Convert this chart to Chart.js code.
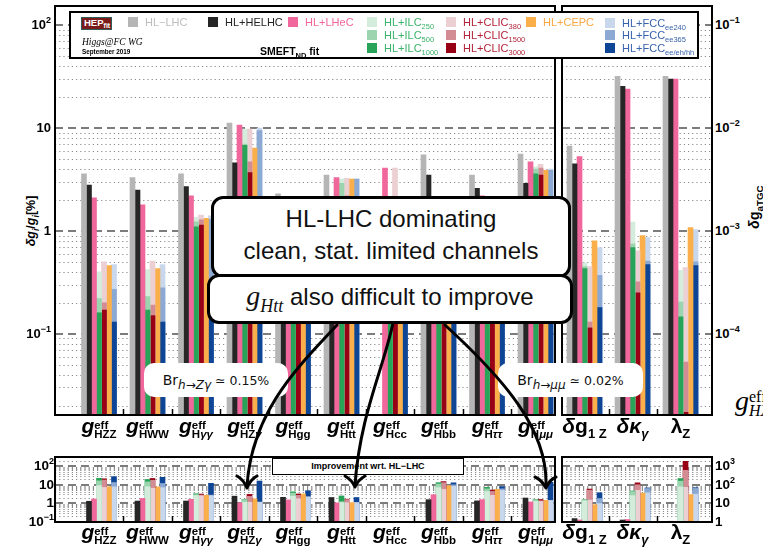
<!DOCTYPE html>
<html>
<head>
<meta charset="utf-8">
<script src="https://cdn.jsdelivr.net/npm/chart.js@4.4.1/dist/chart.umd.min.js"></script>
<style>
html, body { margin: 0; padding: 0; background: #fff; }
#page { position: relative; width: 763px; height: 548px; overflow: hidden; font-family: "Liberation Sans", Arial, sans-serif; color: #000; }
canvas { position: absolute; z-index: 1; }
.frame { position: absolute; z-index: 2; border: 2px solid #000; box-sizing: border-box; }
.tk { position: absolute; z-index: 3; font-weight: bold; font-size: 13px; line-height: 14px; white-space: nowrap; transform: translateY(-50%); }
.tk sup { font-size: 9px; line-height: 0; vertical-align: 6px; }
.tk.small { font-size: 13.5px; }
.xl { position: absolute; z-index: 3; white-space: nowrap; font-weight: bold; line-height: 20px; transform: translateX(-50%); }
.xl .g { font-style: italic; font-size: 21px; }
.xl .ss { display: inline-block; vertical-align: -5px; font-size: 11.5px; line-height: 9px; text-align: left; }
.xl .ss span { display: block; }
.xl.tgc .g { font-style: normal; }
.xl .sb { font-size: 13px; vertical-align: -5px; line-height: 0; }
.ax { position: absolute; z-index: 3; white-space: nowrap; font-weight: bold; transform: translate(-50%, -50%) rotate(-90deg); }
.ax sub { font-size: 0.7em; line-height: 0; }
#legend { position: absolute; z-index: 4; left: 69px; top: 11px; width: 630px; height: 48px; box-sizing: border-box; border: 2px solid #000; background: #fff; }
.lg { position: absolute; z-index: 5; font-size: 11px; line-height: 10px; white-space: nowrap; }
.lg i { position: absolute; left: 0; top: 0; width: 10px; height: 10px; }
.lg span { position: absolute; left: 17px; top: 0; }
.lg sub { font-size: 7.5px; line-height: 0; vertical-align: -3px; }
#logo { position: absolute; z-index: 5; left: 81px; top: 17px; width: 31px; height: 13px; box-sizing: border-box; border: 1.5px solid #2f5d59; background: #7a1c1c; color: #fff; font-weight: bold; font-size: 9.5px; line-height: 10px; padding-left: 2px; }
#logo small { font-size: 7px; vertical-align: -2px; }
.note { position: absolute; z-index: 5; white-space: nowrap; }
.callout { position: absolute; z-index: 6; box-sizing: border-box; border: 3px solid #000; border-radius: 12px; background: #fff; text-align: center; font-size: 24px; line-height: 32px; white-space: nowrap; color: #111; }
.callout .m { font-family: "Liberation Serif", serif; font-style: italic; font-size: 28px; }
.callout .m sub { font-size: 18px; line-height: 0; }
.br { position: absolute; z-index: 6; box-sizing: border-box; background: #fff; border-radius: 10px; font-family: "DejaVu Sans", sans-serif; font-size: 12.5px; line-height: 34px; text-align: center; white-space: nowrap; color: #111; }
.br .b { font-size: 14px; }
.br sub { font-size: 12px; line-height: 0; vertical-align: -4px; }
#improve { position: absolute; z-index: 4; left: 272px; top: 458px; width: 192px; height: 17px; box-sizing: border-box; border: 1.5px solid #000; background: #fff; font-weight: bold; font-size: 9px; line-height: 14px; text-align: center; }
#cut { position: absolute; z-index: 3; left: 735px; top: 386px; font-family: "Liberation Serif", serif; white-space: nowrap; line-height: 30px; }
#cut .g { font-style: italic; font-size: 28px; }
#cut .ss { display: inline-block; vertical-align: -6px; font-size: 16px; line-height: 14px; }
#cut .ss span { display: block; }
svg { position: absolute; left: 0; top: 0; z-index: 7; }
</style>
</head>
<body>
<div id="page">
  <canvas id="cMain" width="500" height="409" style="left:55px;top:6px"></canvas>
  <canvas id="cTgc" width="150" height="409" style="left:562px;top:6px"></canvas>
  <canvas id="cImp" width="500" height="65" style="left:55px;top:457px"></canvas>
  <canvas id="cImpTgc" width="150" height="65" style="left:562px;top:457px"></canvas>

  <div class="frame" style="left:54px;top:5px;width:502px;height:411px"></div>
  <div class="frame" style="left:561px;top:5px;width:152px;height:411px"></div>
  <div class="frame" style="left:54px;top:456px;width:502px;height:67px"></div>
  <div class="frame" style="left:561px;top:456px;width:152px;height:67px"></div>

  <div class="ax" style="left:31px;top:221px;font-size:12.5px"><i>δg</i><sub><i>i</i></sub>/<i>g</i><sub><i>i</i></sub>[%]</div>
  <div class="ax" style="left:754px;top:207px;font-size:14px"><i>δ</i>g<sub>aTGC</sub></div>

  <div id="legend"></div>
  <div id="logo">HEP<small>fit</small></div>
  <div class="note" style="left:82px;top:37px;font-family:'Liberation Serif',serif;font-style:italic;font-size:9.5px">Higgs@FC WG</div>
  <div class="note" style="left:82px;top:48px;font-weight:bold;font-size:6.3px">September 2019</div>
  <div class="note" style="left:260px;top:45px;font-weight:bold;font-size:10.5px">SMEFT<sub style="font-size:7.5px">ND</sub> fit</div>

  <div class="lg" style="left:128px;top:17px"><i style="background:#b5b5b5"></i><span style="color:#bdbdbd">HL−LHC</span></div>
  <div class="lg" style="left:208px;top:17px"><i style="background:#262626"></i><span style="color:#222">HL+HELHC</span></div>
  <div class="lg" style="left:288px;top:17px"><i style="background:#f0679b"></i><span style="color:#f0679b">HL+LHeC</span></div>
  <div class="lg" style="left:367px;top:17px"><i style="background:#d3ecdb"></i><span style="color:#3ab36a">HL+ILC<sub>250</sub></span></div>
  <div class="lg" style="left:367px;top:30px"><i style="background:#9bd4ae"></i><span style="color:#3ab36a">HL+ILC<sub>500</sub></span></div>
  <div class="lg" style="left:367px;top:43px"><i style="background:#27a457"></i><span style="color:#3ab36a">HL+ILC<sub>1000</sub></span></div>
  <div class="lg" style="left:446px;top:17px"><i style="background:#ebcfd3"></i><span style="color:#b3233a">HL+CLIC<sub>380</sub></span></div>
  <div class="lg" style="left:446px;top:30px"><i style="background:#d38b94"></i><span style="color:#b3233a">HL+CLIC<sub>1500</sub></span></div>
  <div class="lg" style="left:446px;top:43px"><i style="background:#980016"></i><span style="color:#b3233a">HL+CLIC<sub>3000</sub></span></div>
  <div class="lg" style="left:526px;top:17px"><i style="background:#fbaf4a"></i><span style="color:#f8a842">HL+CEPC</span></div>
  <div class="lg" style="left:605px;top:18px"><i style="background:#c8d7ec"></i><span style="color:#3a63ad">HL+FCC<sub>ee240</sub></span></div>
  <div class="lg" style="left:605px;top:30px"><i style="background:#8ba9d3"></i><span style="color:#3a63ad">HL+FCC<sub>ee365</sub></span></div>
  <div class="lg" style="left:605px;top:43px"><i style="background:#0e4595"></i><span style="color:#3a63ad">HL+FCC<sub>ee/eh/hh</sub></span></div>

  <div id="improve">Improvement wrt. HL−LHC</div>

  <div class="callout" style="left:211px;top:196px;width:360px;height:82px;padding-top:4px">HL-LHC dominating<br>clean, stat. limited channels</div>
  <div class="callout" style="left:207px;top:274px;width:366px;height:50px;padding-top:3px"><span class="m">g<sub>Htt</sub></span> also difficult to improve</div>
  <div class="br" style="left:144px;top:363px;width:144px;height:34px"><span class="b">Br</span><sub><i>h</i>→<i>Zγ</i></sub> ≃ 0.15%</div>
  <div class="br" style="left:498px;top:363px;width:145px;height:34px"><span class="b">Br</span><sub><i>h</i>→<i>μμ</i></sub> ≃ 0.02%</div>

  <div id="cut"><span class="g">g</span><span class="ss"><span>eff</span><span><i>HX</i></span></span></div>

  <svg width="763" height="548" viewBox="0 0 763 548">
    <g fill="none" stroke="#000" stroke-width="3" stroke-linecap="round" stroke-linejoin="round">
      <path d="M337,325 C300,365 252,410 247,486"/>
      <path d="M237,476 Q244,480 247,488 Q250,480 257,476"/>
      <path d="M393,323 C383,370 360,415 355,485"/>
      <path d="M345,476 Q352,480 355,487 Q358,480 365,476"/>
      <path d="M445,325 C505,380 548,430 546,486"/>
      <path d="M535,477 Q542,480 546,488 Q549,480 556,477"/>
    </g>
  </svg>
</div>

<script>
const higgsCats = ['HZZ', 'HWW', 'Hγγ', 'HZγ', 'Hgg', 'Htt', 'Hcc', 'Hbb', 'Hττ', 'Hμμ'];
const tgcCats = [['δg', '1 Z'], ['δκ', 'γ'], ['λ', 'Z']];

// first 10: Higgs couplings, δg/g in %; last 3: aTGC, absolute
const hlLhc    = [3.6, 3.3, 3.6, 11.2, 2.3, 3.5, null, 5.5, 3.5, 5.6, 6.7e-3, 3.2e-2, 3.2e-2];
const hlHeLhc  = [2.8, 2.5, 2.7, 4.6, 1.1, 1.7, null, 3.5, 2.6, 2.9, 4.5e-3, 2.55e-2, 3.0e-2];
const hlLhec   = [2.1, 1.8, 2.2, 10.7, 1.5, 3.3, 4.1, 1.9, 2.2, 4.7, 5.3e-3, 2.4e-2, 3.0e-2];
const ilc250   = [0.40, 0.42, 1.36, 9.8, 0.95, 3.2, 1.8, 0.78, 0.81, 4.2, 4.9e-4, 1.22e-3, 4.15e-4];
const ilc500   = [0.22, 0.23, 1.23, 7.0, 0.65, 2.9, 1.2, 0.50, 0.58, 4.0, 4.5e-4, 7.5e-4, 2.04e-4];
const ilc1000  = [0.16, 0.17, 1.10, 6.8, 0.55, 1.4, 0.88, 0.42, 0.48, 3.6, 4.3e-4, 6.9e-4, 1.46e-4];
const clic380  = [0.50, 0.51, 1.43, 9.8, 1.3, 3.25, 4.1, 0.98, 1.3, 4.45, 4.5e-4, 6.4e-4, 4.4e-4];
const clic1500 = [0.20, 0.19, 1.28, 4.7, 0.85, 2.2, 1.9, 0.42, 0.79, 4.1, 1.3e-4, 3.2e-4, 5.3e-5];
const clic3000 = [0.17, 0.15, 1.14, 3.7, 0.72, 2.1, 1.4, 0.37, 0.67, 3.5, 1.14e-4, 2.5e-4, 1.72e-5];
const cepc     = [0.46, 0.43, 1.33, 6.4, 0.72, 3.2, 1.8, 0.61, 0.61, 3.9, 8.0e-4, 9.0e-4, 1.08e-3];
const fcc240   = [0.47, 0.47, 1.40, 10.0, 1.1, 3.2, 1.4, 0.67, 0.70, 4.0, 6.9e-4, 8.6e-4, 1.03e-3];
const fcc365   = [0.27, 0.28, 1.30, 9.5, 0.98, 3.2, 1.2, 0.55, 0.57, 3.9, 3.7e-4, 5.1e-4, 5.0e-4];
const fccAll   = [0.13, 0.13, 0.30, 0.70, 0.48, 1.7, 0.95, 0.43, 0.44, 0.41, 1.8e-4, 4.7e-4, 4.6e-4];

// improvement wrt. HL-LHC (lower panels)
const impHeLhc    = [1.29, 1.32, 1.33, 2.43, 2.1, 2.06, null, 1.57, 1.35, 1.93, 1.49, 1.25, 1.07];
const impLhec     = [1.71, 1.83, 1.64, 1.05, 1.53, 1.06, null, 2.9, 1.59, 1.19, 1.26, 1.33, 1.07];
const impIlc250   = [9.0, 7.9, 2.65, 1.14, 2.42, 1.09, null, 7.05, 4.3, 1.33, 13.7, 26, 77];
const impIlc500   = [16.4, 14.3, 2.93, 1.6, 3.54, 1.21, null, 11, 6.0, 1.4, 14.9, 43, 157];
const impIlc1000  = [22.5, 19.4, 3.27, 1.65, 4.18, 2.5, null, 13.1, 7.3, 1.56, 15.6, 46, 219];
const impClic380  = [7.2, 6.5, 2.52, 1.14, 1.77, 1.08, null, 5.6, 2.7, 1.26, 14.9, 50, 73];
const impClic1500 = [18, 17.4, 2.81, 2.38, 2.7, 1.59, null, 13.1, 4.4, 1.37, 51.5, 100, 604];
const impClic3000 = [21.2, 22, 3.16, 3.03, 3.19, 1.67, null, 14.9, 5.2, 1.6, 58.8, 128, 1860];
const impCepc     = [7.8, 7.7, 2.71, 1.75, 3.19, 1.09, null, 9.0, 5.7, 1.44, 8.4, 35.6, 29.6];
const impFcc240   = [7.7, 7.0, 2.57, 1.12, 2.09, 1.09, null, 8.2, 5.0, 1.4, 9.7, 37, 31];
const impFcc365   = [13.3, 11.8, 2.77, 1.18, 2.35, 1.09, null, 10, 6.1, 1.44, 18.1, 63, 64];
const impFccAll   = [27.7, 25.4, 12, 16, 4.8, 2.06, null, 12.8, 8.0, 13.7, 37.2, 68, 70];

const higgsTicks = [100, 10, 1, 0.1];
const higgsTickText = ['10<sup>2</sup>', '10', '1', '10<sup>−1</sup>'];
const tgcTicks = [0.1, 0.01, 0.001, 0.0001];
const tgcTickText = ['10<sup>−1</sup>', '10<sup>−2</sup>', '10<sup>−3</sup>', '10<sup>−4</sup>'];
const impTicks = [100, 10, 1, 0.1];
const impTickText = ['10<sup>2</sup>', '10', '1', '10<sup>−1</sup>'];
const impTgcTicks = [1000, 100, 10, 1];
const impTgcTickText = ['10<sup>3</sup>', '10<sup>2</sup>', '10', '1'];

const colors = {
  hl: '#b5b5b5', he: '#262626', lhec: '#f0679b',
  ilc250: '#d3ecdb', ilc500: '#9bd4ae', ilc1000: '#27a457',
  clic380: '#ebcfd3', clic1500: '#d38b94', clic3000: '#980016',
  cepc: '#fbaf4a', fcc240: '#c8d7ec', fcc365: '#8ba9d3', fccAll: '#0e4595'
};

// first dataset is drawn last, so the shortest bar of a shared slot comes first
const topSeries = [
  ['hl', hlLhc, 'a'], ['he', hlHeLhc, 'b'], ['lhec', hlLhec, 'c'],
  ['ilc1000', ilc1000, 'd'], ['ilc500', ilc500, 'd'], ['ilc250', ilc250, 'd'],
  ['clic3000', clic3000, 'e'], ['clic1500', clic1500, 'e'], ['clic380', clic380, 'e'],
  ['cepc', cepc, 'f'],
  ['fccAll', fccAll, 'g'], ['fcc365', fcc365, 'g'], ['fcc240', fcc240, 'g']
];
const impSeries = [
  ['hl', [], 'a'], ['he', impHeLhc, 'b'], ['lhec', impLhec, 'c'],
  ['ilc250', impIlc250, 'd'], ['ilc500', impIlc500, 'd'], ['ilc1000', impIlc1000, 'd'],
  ['clic380', impClic380, 'e'], ['clic1500', impClic1500, 'e'], ['clic3000', impClic3000, 'e'],
  ['cepc', impCepc, 'f'],
  ['fcc240', impFcc240, 'g'], ['fcc365', impFcc365, 'g'], ['fccAll', impFccAll, 'g']
];

function makeSets(series, from, to) {
  return series.map(([key, vals, stack]) => ({
    data: vals.slice(from, to).map((v, i) => ({x: i, y: v})),
    backgroundColor: colors[key],
    stack: stack,
    barThickness: 5,
    borderWidth: 0
  }));
}

const logGrid = {
  id: 'logGrid',
  beforeDatasetsDraw(chart) {
    const {ctx, chartArea: a, scales: {y}} = chart;
    ctx.save();
    for (let e = -6; e <= 4; e++) {
      for (let m = 1; m <= 9; m++) {
        const v = m * Math.pow(10, e);
        if (v <= y.min || v >= y.max) continue;
        const py = Math.round(y.getPixelForValue(v));
        ctx.beginPath();
        if (m === 1) {
          ctx.strokeStyle = '#7c7c7c'; ctx.lineWidth = 2; ctx.setLineDash([8, 5]);
          ctx.moveTo(a.left, py); ctx.lineTo(a.right, py);
        } else {
          ctx.strokeStyle = '#8a8a8a'; ctx.lineWidth = 1; ctx.setLineDash([1.2, 3]);
          ctx.moveTo(a.left, py + 0.5); ctx.lineTo(a.right, py + 0.5);
        }
        ctx.stroke();
      }
    }
    ctx.restore();
  },
  afterDatasetsDraw(chart, args, opts) {
    const {ctx, chartArea: a, scales: {x}} = chart;
    ctx.save();
    ctx.strokeStyle = '#000'; ctx.lineWidth = 1.5;
    for (let i = 0; i < opts.n - 1; i++) {
      const px = Math.round(x.getPixelForValue(i + 0.5)) + 0.5;
      ctx.beginPath(); ctx.moveTo(px, a.bottom); ctx.lineTo(px, a.bottom - 6); ctx.stroke();
    }
    ctx.restore();
  }
};

function barChart(id, sets, xr, yr, n) {
  return new Chart(document.getElementById(id), {
    type: 'bar',
    data: {datasets: sets},
    options: {
      responsive: false,
      animation: false,
      events: [],
      layout: {padding: 0},
      scales: {
        x: {type: 'linear', min: xr[0], max: xr[1], offset: false, stacked: true, display: false},
        y: {type: 'logarithmic', min: yr[0], max: yr[1], stacked: false, display: false}
      },
      plugins: {legend: {display: false}, tooltip: {enabled: false}, logGrid: {n: n}}
    },
    plugins: [logGrid]
  });
}

const xHiggs = [-0.907, 9.402];
const xTgc = [-0.469, 2.656];
const mainChart = barChart('cMain', makeSets(topSeries, 0, 10), xHiggs, [0.0162, 154.4], 10);
const tgcChart = barChart('cTgc', makeSets(topSeries, 10, 13), xTgc, [1.62e-5, 0.1544], 3);
const impChart = barChart('cImp', makeSets(impSeries, 0, 10), xHiggs, [0.0975, 318], 10);
const impTgcChart = barChart('cImpTgc', makeSets(impSeries, 10, 13), xTgc, [0.975, 3180], 3);

const page = document.getElementById('page');
function add(cls, html, style) {
  const d = document.createElement('div');
  d.className = cls;
  d.innerHTML = html;
  Object.assign(d.style, style);
  page.insertBefore(d, document.getElementById('legend'));
  return d;
}

function yLabels(chart, top, vals, texts, side, edge, extra) {
  vals.forEach((v, i) => {
    const st = {top: (top + chart.scales.y.getPixelForValue(v)) + 'px'};
    if (side === 'right') { st.right = (763 - edge) + 'px'; st.textAlign = 'right'; }
    else st.left = edge + 'px';
    add('tk' + (extra || ''), texts[i], st);
  });
}
yLabels(mainChart, 6, higgsTicks, higgsTickText, 'right', 51);
yLabels(tgcChart, 6, tgcTicks, tgcTickText, 'left', 715);
yLabels(impChart, 457, impTicks, impTickText, 'right', 54, ' small');
yLabels(impTgcChart, 457, impTgcTicks, impTgcTickText, 'left', 715, ' small');

const greek = s => s.replace(/([γτμκδ])/g, '<i>$1</i>');
function higgsLabels(chart, left, top) {
  higgsCats.forEach((c, i) => {
    add('xl', '<span class="g">g</span><span class="ss"><span>eff</span><span>' + greek(c) + '</span></span>',
      {left: (left + chart.scales.x.getPixelForValue(i)) + 'px', top: top + 'px'});
  });
}
function tgcLabels(chart, left, top) {
  tgcCats.forEach(([m, s], i) => {
    add('xl tgc', '<span class="g">' + greek(m) + '</span><span class="sb">' + greek(s) + '</span>',
      {left: (left + chart.scales.x.getPixelForValue(i)) + 'px', top: top + 'px'});
  });
}
higgsLabels(mainChart, 55, 416);
tgcLabels(tgcChart, 562, 416);
higgsLabels(impChart, 55, 522);
tgcLabels(impTgcChart, 562, 522);
</script>
</body>
</html>
